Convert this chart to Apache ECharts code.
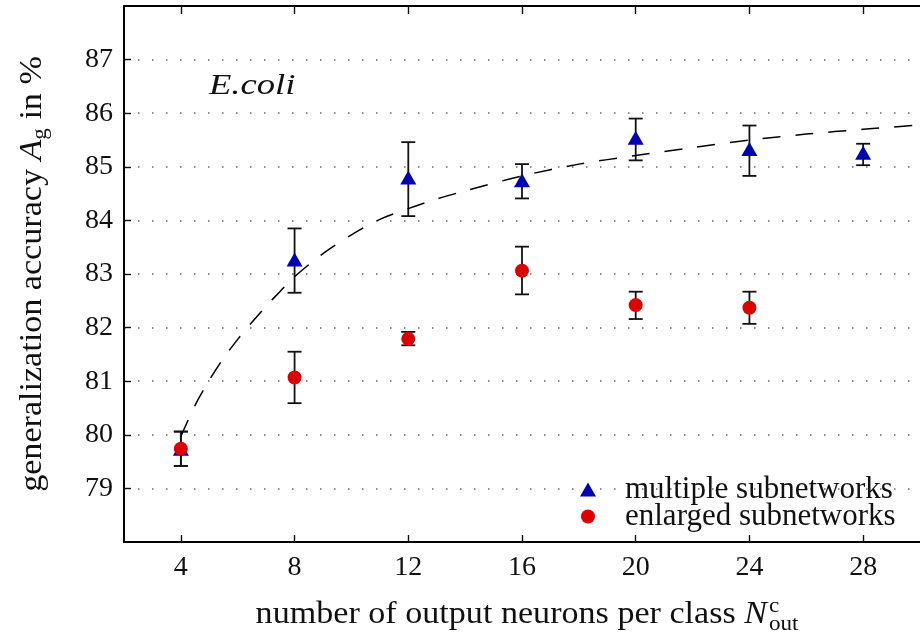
<!DOCTYPE html>
<html>
<head>
<meta charset="utf-8">
<script src="https://cdn.jsdelivr.net/npm/echarts@6/dist/echarts.min.js"></script>
<style>
  html, body { margin: 0; padding: 0; background: #fff; }
  #chart { width: 920px; height: 637px; }
</style>
</head>
<body>
<div id="chart"></div>
<script>
// ticks
var xTicks = [4, 8, 12, 16, 20, 24, 28];
var yTicks = [79, 80, 81, 82, 83, 84, 85, 86, 87];

// multiple subnetworks (triangles)
var multipleX = [4, 8, 12, 16, 20, 24, 28];
var multipleMean = [79.74, 83.27, 84.80, 84.75, 85.54, 85.33, 85.26];
var multipleLow = [79.42, 82.65, 84.08, 84.41, 85.12, 84.83, 85.03];
var multipleHigh = [80.06, 83.85, 85.46, 85.05, 85.90, 85.77, 85.43];

// enlarged subnetworks (circles)
var enlargedX = [4, 8, 12, 16, 20, 24];
var enlargedMean = [79.74, 81.07, 81.79, 83.06, 82.42, 82.37];
var enlargedLow = [79.42, 80.59, 81.67, 82.62, 82.16, 82.07];
var enlargedHigh = [80.06, 81.55, 81.92, 83.51, 82.67, 82.67];

// dashed fit curve
var fitX = [4, 4.5, 5, 5.5, 6, 6.5, 7, 7.5, 8, 9, 10, 11, 12, 13, 14, 16, 18, 20, 22, 24, 26, 28, 30];
var fitY = [79.97, 80.55, 81.02, 81.43, 81.78, 82.10, 82.40, 82.68, 82.95, 83.38, 83.73, 84.02, 84.22, 84.40, 84.55, 84.83, 85.05, 85.21, 85.36, 85.50, 85.61, 85.70, 85.78];

var SERIF = '"Liberation Serif", "DejaVu Serif", serif';

function zip(a, b) {
  return a.map(function (v, i) { return [v, b[i]]; });
}
function errData(xs, lo, hi) {
  return xs.map(function (v, i) { return [v, lo[i], hi[i]]; });
}

function renderErr(params, api) {
  var top = api.coord([api.value(0), api.value(2)]);
  var bot = api.coord([api.value(0), api.value(1)]);
  var hw = 7;
  var st = { stroke: '#111', lineWidth: 1.8, fill: null };
  return {
    type: 'group',
    children: [
      { type: 'line', shape: { x1: top[0], y1: top[1], x2: bot[0], y2: bot[1] }, style: st },
      { type: 'line', shape: { x1: top[0] - hw, y1: top[1], x2: top[0] + hw, y2: top[1] }, style: st },
      { type: 'line', shape: { x1: bot[0] - hw, y1: bot[1], x2: bot[0] + hw, y2: bot[1] }, style: st }
    ]
  };
}

var chart = echarts.init(document.getElementById('chart'));

var option = {
  animation: false,
  backgroundColor: '#fff',
  grid: { left: 124, top: 6, bottom: 95, right: -8 },
  xAxis: [{
    type: 'value', min: 2, max: 30, position: 'bottom',
    axisLine: { show: true, onZero: false, lineStyle: { color: '#000', width: 2 } },
    axisTick: { show: true, inside: true, length: 7, customValues: xTicks, lineStyle: { color: '#111', width: 1.4 } },
    axisLabel: { show: true, customValues: xTicks, margin: 12, color: '#111', fontSize: 28, fontFamily: SERIF },
    splitLine: { show: false }
  }, {
    type: 'value', min: 2, max: 30, position: 'top',
    axisLine: { show: true, onZero: false, lineStyle: { color: '#000', width: 2 } },
    axisTick: { show: true, inside: true, length: 8, customValues: xTicks, lineStyle: { color: '#111', width: 1.4 } },
    axisLabel: { show: false },
    splitLine: { show: false }
  }],
  yAxis: {
    type: 'value', min: 78, max: 88, interval: 1,
    axisLine: { show: true, onZero: false, lineStyle: { color: '#000', width: 2 } },
    axisTick: { show: true, inside: true, length: 7, customValues: yTicks, lineStyle: { color: '#111', width: 1.4 } },
    axisLabel: { show: true, customValues: yTicks, margin: 11, color: '#111', fontSize: 28, fontFamily: SERIF },
    splitLine: { show: true, lineStyle: { color: '#666', width: 1.5, type: [1.5, 12.5] } }
  },
  legend: {
    orient: 'vertical',
    left: 575, top: 469,
    itemWidth: 16, itemHeight: 14, itemGap: -4,
    textStyle: { fontSize: 31, fontFamily: SERIF, color: '#111', lineHeight: 28, padding: [0, 0, 0, 24] },
    data: [
      { name: 'multiple subnetworks', icon: 'triangle' },
      { name: 'enlarged subnetworks', icon: 'circle' }
    ]
  },
  graphic: [
    {
      type: 'text', x: 209, y: 86, scaleX: 1.22,
      style: { text: 'E.coli', font: 'italic 30px ' + SERIF, fill: '#111', align: 'left', verticalAlign: 'middle' }
    },
    {
      type: 'text', x: 33, y: 274, rotation: Math.PI / 2, scaleX: 1.1,
      style: {
        text: '{r|generalization accuracy }{i|A}{s|g}{r| in %}',
        align: 'center', verticalAlign: 'middle', fill: '#111',
        rich: {
          r: { fontSize: 31, fontFamily: SERIF, lineHeight: 36, fill: '#111' },
          i: { fontSize: 31, fontFamily: SERIF, fontStyle: 'italic', lineHeight: 36, fill: '#111' },
          s: { fontSize: 21, fontFamily: SERIF, lineHeight: 14, verticalAlign: 'bottom', fill: '#111' }
        }
      }
    },
    {
      type: 'text', x: 767, y: 615, scaleX: 1.1,
      style: {
        text: '{r|number of output neurons per class }{i|N}',
        align: 'right', verticalAlign: 'middle', fill: '#111',
        rich: {
          r: { fontSize: 31, fontFamily: SERIF, fill: '#111' },
          i: { fontSize: 31, fontFamily: SERIF, fontStyle: 'italic', fill: '#111' }
        }
      }
    },
    {
      type: 'text', x: 769, y: 606, scaleX: 1.1,
      style: { text: 'c', font: '21px ' + SERIF, fill: '#111', align: 'left', verticalAlign: 'middle' }
    },
    {
      type: 'text', x: 769, y: 624, scaleX: 1.1,
      style: { text: 'out', font: '21px ' + SERIF, fill: '#111', align: 'left', verticalAlign: 'middle' }
    }
  ],
  series: [
    {
      name: 'err multiple', type: 'custom', renderItem: renderErr, z: 2,
      data: errData(multipleX, multipleLow, multipleHigh), silent: true
    },
    {
      name: 'err enlarged', type: 'custom', renderItem: renderErr, z: 2,
      data: errData(enlargedX, enlargedLow, enlargedHigh), silent: true
    },
    {
      name: 'multiple subnetworks', type: 'scatter', symbol: 'triangle', symbolSize: [16, 14], z: 3,
      itemStyle: { color: '#0000b0', opacity: 1 },
      data: zip(multipleX, multipleMean)
    },
    {
      name: 'enlarged subnetworks', type: 'scatter', symbol: 'circle', symbolSize: 14, z: 4,
      itemStyle: { color: '#dd0000', opacity: 1 },
      data: zip(enlargedX, enlargedMean)
    },
    {
      name: 'fit', type: 'line', showSymbol: false, smooth: 0.3, z: 5,
      lineStyle: { color: '#000', width: 1.5, type: [18, 15] },
      data: zip(fitX, fitY)
    }
  ]
};

chart.setOption(option);
</script>
</body>
</html>
